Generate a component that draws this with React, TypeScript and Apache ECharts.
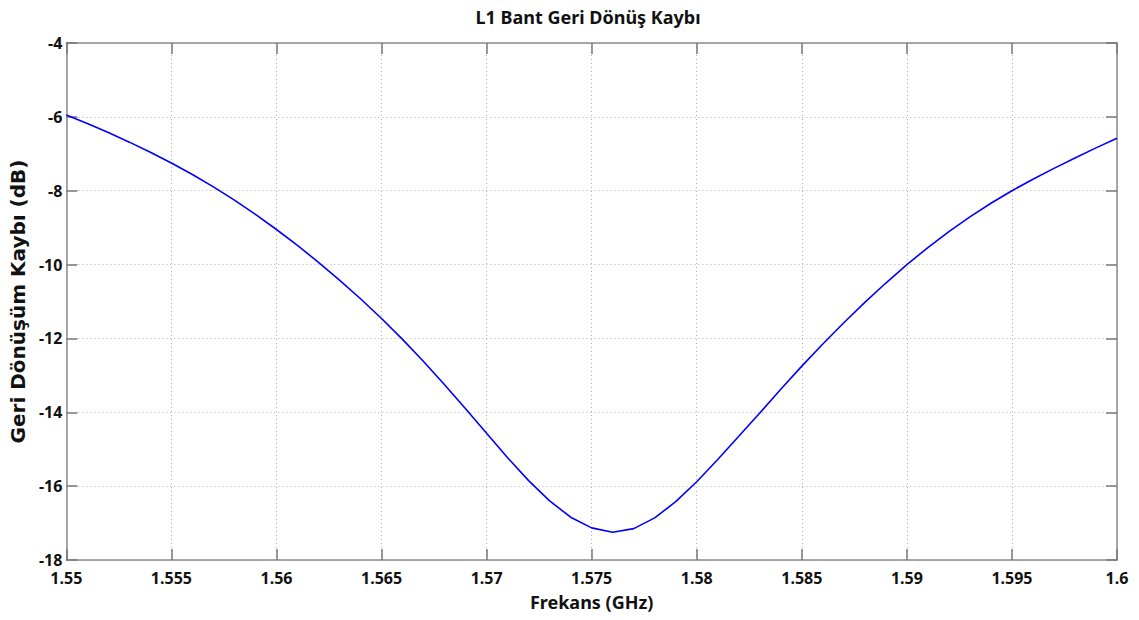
import React, { useEffect, useRef } from "react";
import * as echarts from "echarts";

const titleText = "L1 Bant Geri Dönüş Kaybı";
const xName = "Frekans (GHz)";
const yName = "Geri Dönüşüm Kaybı (dB)";

const freqGHz = [
  1.55, 1.551, 1.552, 1.553, 1.554, 1.555, 1.556, 1.557, 1.558, 1.559,
  1.56, 1.561, 1.562, 1.563, 1.564, 1.565, 1.566, 1.567, 1.568, 1.569,
  1.57, 1.571, 1.572, 1.573, 1.574, 1.575, 1.576, 1.577, 1.578, 1.579,
  1.58, 1.581, 1.582, 1.583, 1.584, 1.585, 1.586, 1.587, 1.588, 1.589,
  1.59, 1.591, 1.592, 1.593, 1.594, 1.595, 1.596, 1.597, 1.598, 1.599,
  1.6,
];

const returnLossDb = [
  -5.95, -6.18, -6.425, -6.685, -6.96, -7.25, -7.56, -7.895, -8.255, -8.64,
  -9.05, -9.48, -9.94, -10.42, -10.925, -11.46, -12.025, -12.625, -13.255, -13.905,
  -14.57, -15.23, -15.85, -16.4, -16.84, -17.13, -17.25, -17.15, -16.86, -16.42,
  -15.88, -15.28, -14.65, -14.02, -13.375, -12.75, -12.15, -11.575, -11.025, -10.5,
  -10.0, -9.54, -9.11, -8.71, -8.34, -8.0, -7.69, -7.395, -7.115, -6.84,
  -6.58,
];

const xMin = 1.55;
const xMax = 1.6;
const xStep = 0.005;
const yMin = -18;
const yMax = -4;
const yStep = 2;

export default function App() {
  const ref = useRef<HTMLDivElement>(null);
  useEffect(() => {
    document.body.style.margin = "0";
    if (!ref.current) return;
    const chart = echarts.init(ref.current, null, { renderer: "svg" });
    const boxLine = { show: true, lineStyle: { color: "#8c8c8c", width: 1.5 } };
    const tick = { show: true, inside: true, length: 11, lineStyle: { color: "#777", width: 1.5 } };
    const grid = { show: true, lineStyle: { color: "#b0b0b0", type: [1, 3] as any, width: 1 } };
    const labelFont = {
      fontFamily: "Noto Sans",
      fontWeight: "bold" as const,
      fontSize: 16,
      color: "#111",
    };
    const fmtX = (v: number) => parseFloat(v.toFixed(3)).toString();
    chart.setOption({
      animation: false,
      backgroundColor: "#fff",
      title: {
        text: titleText,
        left: 583,
        top: 3,
        textAlign: "center",
        textStyle: { fontFamily: "Noto Sans", fontWeight: "bold", fontSize: 18, color: "#111" },
      },
      grid: { left: 66, right: 22, top: 43, bottom: 60, show: false },
      xAxis: [
        {
          type: "value",
          min: xMin,
          max: xMax,
          interval: xStep,
          position: "bottom",
          name: xName,
          nameLocation: "middle",
          nameGap: 33,
          nameTextStyle: { fontFamily: "Noto Sans", fontWeight: "bold", fontSize: 18, color: "#111" },
          axisLine: boxLine,
          axisTick: tick,
          splitLine: grid,
          axisLabel: { ...labelFont, margin: 10, formatter: fmtX },
        },
        {
          type: "value",
          min: xMin,
          max: xMax,
          interval: xStep,
          position: "top",
          axisLine: boxLine,
          axisTick: tick,
          splitLine: { show: false },
          axisLabel: { show: false },
        },
      ],
      yAxis: [
        {
          type: "value",
          min: yMin,
          max: yMax,
          interval: yStep,
          position: "left",
          name: yName,
          nameLocation: "middle",
          nameGap: 37,
          nameTextStyle: { fontFamily: "DejaVu Sans", fontWeight: "bold", fontSize: 20, color: "#111" },
          axisLine: boxLine,
          axisTick: tick,
          splitLine: grid,
          axisLabel: { ...labelFont, margin: 4 },
        },
        {
          type: "value",
          min: yMin,
          max: yMax,
          interval: yStep,
          position: "right",
          axisLine: boxLine,
          axisTick: tick,
          splitLine: { show: false },
          axisLabel: { show: false },
        },
      ],
      series: [
        {
          type: "line",
          data: freqGHz.map((f, i) => [f, returnLossDb[i]]),
          showSymbol: false,
          lineStyle: { color: "#0000ff", width: 1.6 },
          xAxisIndex: 0,
          yAxisIndex: 0,
        },
      ],
    });
    return () => chart.dispose();
  }, []);
  return <div ref={ref} style={{ width: 1139, height: 620 }} />;
}
